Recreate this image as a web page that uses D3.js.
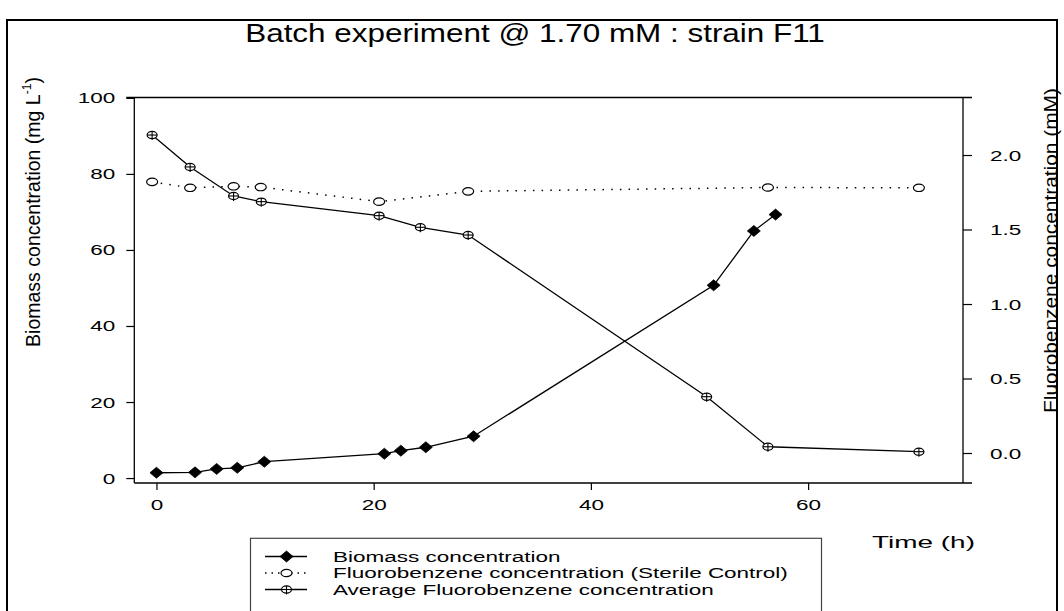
<!DOCTYPE html>
<html><head><meta charset="utf-8">
<script src="https://cdn.jsdelivr.net/npm/d3@7"></script>
<style>
body{margin:0;background:#fff}
svg{display:block}
text{font-family:"Liberation Sans",Arial,sans-serif;fill:#000}
</style>
</head><body>
<svg id="c" width="1064" height="611"></svg>
<script>
// ---------- data ----------
const titleText = "Batch experiment @ 1.70 mM : strain F11";
const xLabelText = "Time (h)";
const yLeftLabelMain = "Biomass concentration (mg L";
const yLeftLabelSup = "-1";
const yRightLabelText = "Fluorobenzene concentration (mM)";
const xTicks = [0, 20, 40, 60];
const yLeftTicks = [0, 20, 40, 60, 80, 100];
const yRightTicks = [0, 0.5, 1.0, 1.5, 2.0];

const biomassTime  = [0, 3.55, 5.54, 7.44, 9.93, 20.98, 22.5, 24.8, 29.2, 51.3, 55.0, 57.0];
const biomassValue = [1.4, 1.5, 2.4, 2.7, 4.3, 6.4, 7.2, 8.1, 11.0, 50.7, 65.0, 69.3];

const sterileTime  = [-0.4, 3.1, 7.1, 9.6, 20.5, 28.7, 56.3, 70.2];
const sterileValue = [1.82, 1.78, 1.79, 1.785, 1.687, 1.756, 1.782, 1.78];

const avgTime  = [-0.4, 3.1, 7.1, 9.65, 20.5, 24.3, 28.7, 50.66, 56.3, 70.2];
const avgValue = [2.134, 1.92, 1.725, 1.687, 1.593, 1.515, 1.463, 0.378, 0.042, 0.009];

const legendLabels = [
  "Biomass concentration",
  "Fluorobenzene concentration (Sterile Control)",
  "Average Fluorobenzene concentration"
];

// ---------- drawing ----------
const svg = d3.select("#c");
svg.append("rect").attr("width", 1064).attr("height", 611).attr("fill", "#fff");
svg.append("rect").attr("x", 7).attr("y", 20).attr("width", 1050).attr("height", 640)
  .attr("fill", "none").attr("stroke", "#000").attr("stroke-width", 2);

const x  = d3.scaleLinear().domain([-2.04, 74.26]).range([134.3, 963]);
const yL = d3.scaleLinear().domain([-1.3, 100.1]).range([483, 97.5]);
const yR = d3.scaleLinear().domain([-0.2013, 2.386]).range([483, 97.5]);

const Q = 0.62;      // vertical squash of tick / legend text
const TF = 22.5;     // tick font size

// frame
const frame = svg.append("g").attr("stroke", "#000").attr("stroke-width", 1.3).attr("fill", "none");
const [x0, x1] = x.range();
const [yb, yt] = yL.range();
frame.append("line").attr("x1", x0 - 8).attr("x2", x1 + 9).attr("y1", yt).attr("y2", yt);
frame.append("line").attr("x1", x0).attr("x2", x1 + 9).attr("y1", yb).attr("y2", yb);
frame.append("line").attr("x1", x0).attr("x2", x0).attr("y1", yt).attr("y2", yb);
frame.append("line").attr("x1", x1).attr("x2", x1).attr("y1", yt).attr("y2", yb);

function styleAxis(g) {
  g.attr("font-family", null).attr("font-size", null);
  g.select(".domain").remove();
  g.selectAll(".tick line").attr("stroke", "#000").attr("stroke-width", 1.2);
}

const gx = svg.append("g").attr("transform", `translate(0,${yb})`)
  .call(d3.axisBottom(x).tickValues(xTicks).tickSize(7).tickFormat(d3.format("d")));
styleAxis(gx);
gx.selectAll("text").attr("y", null).attr("dy", null).attr("font-size", TF)
  .attr("text-anchor", "middle").attr("transform", `translate(0,27) scale(1,${Q})`);

const gl = svg.append("g").attr("transform", `translate(${x0},0)`)
  .call(d3.axisLeft(yL).tickValues(yLeftTicks).tickSize(8).tickFormat(d3.format("d")));
styleAxis(gl);
gl.selectAll("text").attr("x", -19).attr("dy", null).attr("font-size", TF)
  .attr("text-anchor", "end").attr("transform", `translate(0,5) scale(1,${Q})`);

const gr = svg.append("g").attr("transform", `translate(${x1},0)`)
  .call(d3.axisRight(yR).tickValues(yRightTicks).tickSize(9).tickFormat(d3.format(".1f")));
styleAxis(gr);
gr.selectAll("text").attr("x", 27).attr("dy", null).attr("font-size", TF)
  .attr("text-anchor", "start").attr("transform", `translate(0,5) scale(1,${Q})`);

// title
const title = svg.append("text").attr("font-size", 26).attr("text-anchor", "middle").text(titleText);
{
  const k = 580 / title.node().getComputedTextLength();
  title.attr("transform", `translate(535,42) scale(${k},1)`);
}

// x label
const xl = svg.append("text").attr("font-size", 17).attr("text-anchor", "middle").text(xLabelText);
{
  const k = 103 / xl.node().getComputedTextLength();
  xl.attr("transform", `translate(923.5,548) scale(${k},1)`);
}

// left y label
const yll = svg.append("text").attr("font-size", 21).attr("text-anchor", "middle");
yll.append("tspan").text(yLeftLabelMain);
yll.append("tspan").attr("font-size", 13).attr("dy", -9).text(yLeftLabelSup);
yll.append("tspan").attr("dy", 9).text(")");
{
  const k = 270 / yll.node().getComputedTextLength();
  yll.attr("transform", `translate(40,212) rotate(-90) scale(${k},1)`);
}

// right y label
const yrl = svg.append("text").attr("font-size", 19).attr("text-anchor", "middle").text(yRightLabelText);
{
  const k = 325 / yrl.node().getComputedTextLength();
  yrl.attr("transform", `translate(1057,250.5) rotate(-90) scale(${k},1)`);
}

// series
const biomass = biomassTime.map((t, i) => ({t, v: biomassValue[i]}));
const sterile = sterileTime.map((t, i) => ({t, v: sterileValue[i]}));
const avg = avgTime.map((t, i) => ({t, v: avgValue[i]}));

const lineL = d3.line().x(d => x(d.t)).y(d => yL(d.v));
const lineR = d3.line().x(d => x(d.t)).y(d => yR(d.v));

svg.append("path").datum(sterile).attr("d", lineR).attr("fill", "none")
  .attr("stroke", "#000").attr("stroke-width", 1.5).attr("stroke-dasharray", "1.5,7.2");
svg.append("path").datum(avg).attr("d", lineR).attr("fill", "none")
  .attr("stroke", "#000").attr("stroke-width", 1.3);
svg.append("path").datum(biomass).attr("d", lineL).attr("fill", "none")
  .attr("stroke", "#000").attr("stroke-width", 1.3);

function diamond(g) {
  g.append("path").attr("d", "M0,-5.5L6.5,0L0,5.5L-6.5,0Z").attr("fill", "#000").attr("stroke", "#000").attr("stroke-width", 0.8);
}
function openCircle(g) {
  g.append("ellipse").attr("rx", 5.5).attr("ry", 3.7).attr("fill", "#fff").attr("stroke", "#000").attr("stroke-width", 1.2);
}
function crossCircle(g) {
  g.append("ellipse").attr("rx", 5).attr("ry", 3.6).attr("fill", "#fff").attr("stroke", "#000").attr("stroke-width", 1.2);
  g.append("line").attr("x1", -5).attr("x2", 5).attr("y1", 0).attr("y2", 0).attr("stroke", "#000").attr("stroke-width", 1.1);
  g.append("line").attr("x1", 0).attr("x2", 0).attr("y1", -3.6).attr("y2", 5).attr("stroke", "#000").attr("stroke-width", 1.1);
}

svg.append("g").selectAll("g").data(sterile).join("g")
  .attr("transform", d => `translate(${x(d.t)},${yR(d.v)})`).each(function(){ openCircle(d3.select(this)); });
svg.append("g").selectAll("g").data(avg).join("g")
  .attr("transform", d => `translate(${x(d.t)},${yR(d.v)})`).each(function(){ crossCircle(d3.select(this)); });
svg.append("g").selectAll("g").data(biomass).join("g")
  .attr("transform", d => `translate(${x(d.t)},${yL(d.v)})`).each(function(){ diamond(d3.select(this)); });

// legend
const lg = svg.append("g");
lg.append("rect").attr("x", 250.5).attr("y", 538.3).attr("width", 571).attr("height", 120)
  .attr("fill", "#fff").attr("stroke", "#444").attr("stroke-width", 1.2);
const rowY = [556.5, 573, 589.5];
const markers = [diamond, openCircle, crossCircle];
legendLabels.forEach((lab, i) => {
  const yy = rowY[i];
  const l = lg.append("line").attr("x1", 265).attr("x2", 307).attr("y1", yy).attr("y2", yy)
    .attr("stroke", "#000").attr("stroke-width", 1.3);
  if (i === 1) l.attr("stroke-dasharray", "1.5,5").attr("stroke-width", 1.5);
  const m = lg.append("g").attr("transform", `translate(286.5,${yy})`);
  markers[i](m);
  lg.append("text").attr("font-size", TF).attr("transform", `translate(333,${yy + 5}) scale(1,${Q})`).text(lab);
});
</script>
</body></html>
